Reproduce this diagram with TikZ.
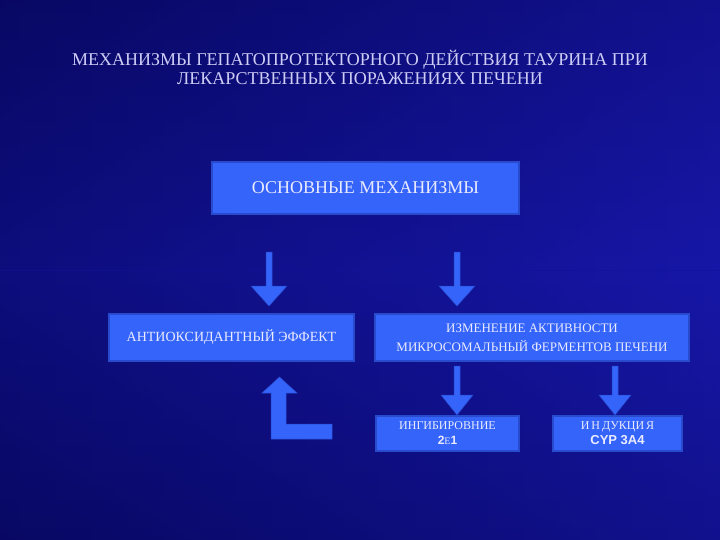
\documentclass[tikz,border=0pt]{standalone}
\usepackage{fontspec}
\setmainfont{Liberation Serif}
\newfontfamily\boldsans{Liberation Sans}
\usetikzlibrary{calc}

\definecolor{bgdark}{RGB}{8,8,100}
\definecolor{bgmid}{RGB}{18,18,150}
\definecolor{bglight}{RGB}{28,28,185}
\definecolor{boxblue}{RGB}{52,100,250}
\definecolor{boxedge}{RGB}{40,75,205}
\definecolor{titletext}{RGB}{205,205,245}
\definecolor{boxtext}{RGB}{235,235,255}

\begin{document}
\begin{tikzpicture}[x=1pt,y=-1pt,
    mechbox/.style ={rectangle, draw=boxedge, line width=1.2pt, fill=boxblue,
                     text=boxtext, inner sep=0pt, align=center},
    blockarrow/.style ={fill=boxblue, draw=boxedge, line width=0.5pt}]
   % background
   \shade[left color=bgdark, right color=bglight] (0,0) rectangle (720,540);
   \shade[top color=bgdark, bottom color=bgmid, opacity=0.5] (0,0) rectangle (720,270);
   \shade[top color=bgmid, bottom color=bgdark, opacity=0.5] (0,270) rectangle (720,540);
   \useasboundingbox (0,0) rectangle (720,540);

   \node[text=titletext, align=center, font=\fontsize{18}{19}\selectfont] (title) at (360,67)
     {МЕХАНИЗМЫ ГЕПАТОПРОТЕКТОРНОГО ДЕЙСТВИЯ ТАУРИНА ПРИ\\ЛЕКАРСТВЕННЫХ ПОРАЖЕНИЯХ ПЕЧЕНИ};

   \node[mechbox, minimum width=307, minimum height=52, font=\fontsize{18}{20}\selectfont] (main) at (365.5,188) {ОСНОВНЫЕ МЕХАНИЗМЫ};
   \node[mechbox, minimum width=245, minimum height=47, font=\fontsize{14}{16}\selectfont] (anti) at (231.5,337.5) {АНТИОКСИДАНТНЫЙ ЭФФЕКТ};
   \node[mechbox, minimum width=314, minimum height=47, font=\fontsize{13}{19}\selectfont] (change) at (532,337.5) {ИЗМЕНЕНИЕ АКТИВНОСТИ\\МИКРОСОМАЛЬНЫЙ ФЕРМЕНТОВ ПЕЧЕНИ};
   \node[mechbox, minimum width=143, minimum height=35, font=\fontsize{12}{15}\selectfont] (inhib) at (447.5,433.5) {ИНГИБИРОВНИЕ\\{\boldsans\bfseries 2}{\fontsize{10}{12}\selectfont Е}{\boldsans\bfseries 1}};
   \node[mechbox, minimum width=129, minimum height=35, font=\fontsize{12}{15}\selectfont] (induc) at (617.5,433.5) {И\,Н\,ДУКЦИ\,Я\\{\boldsans\bfseries\fontsize{13}{15}\selectfont CYP 3A4}};

   % down arrows
   \draw[blockarrow] (266,252) -- (272,252) -- (272,286) -- (287,286) -- (269,306) -- (251,286) -- (266,286) -- cycle;
   \draw[blockarrow] (454,252) -- (460,252) -- (460,286) -- (475,286) -- (457,306) -- (439,286) -- (454,286) -- cycle;
   \draw[blockarrow] (454,366) -- (460,366) -- (460,395) -- (473,395) -- (457,415) -- (441,395) -- (454,395) -- cycle;
   \draw[blockarrow] (612,366) -- (618,366) -- (618,395) -- (631,395) -- (615,415) -- (599,395) -- (612,395) -- cycle;

   % bent arrow back to anti
   \draw[blockarrow] (271,439) -- (271,393) -- (262,393) -- (279.5,377) -- (297,393) -- (286,393) -- (286,424) -- (332,424) -- (332,439) -- cycle;
 \end{tikzpicture}
\end{document}
